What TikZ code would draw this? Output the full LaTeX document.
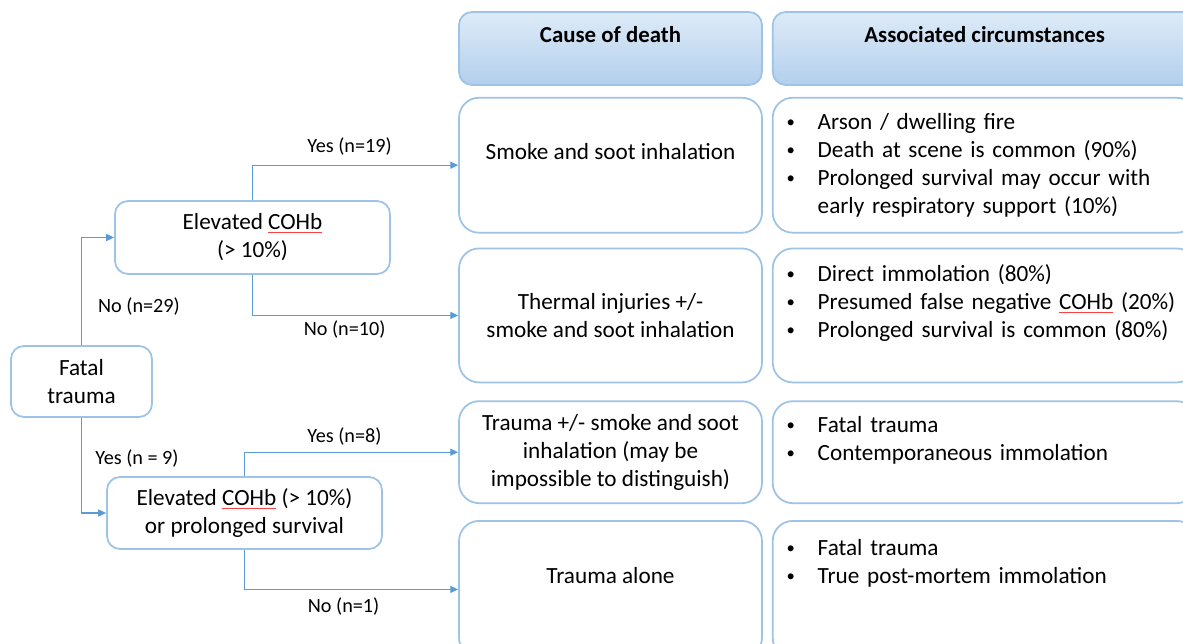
\documentclass[tikz,border=0pt]{standalone}
\usepackage{fontspec}
\setmainfont{Carlito}
\usepackage{tikz}
\usetikzlibrary{arrows.meta, positioning}
\definecolor{boxline}{HTML}{9DC3E6}
\definecolor{linkblue}{HTML}{5B9BD5}
\definecolor{headtop}{HTML}{DEEBF8}
\definecolor{headbot}{HTML}{B2CFEC}
\newcommand{\bul}[1]{\makebox[0.62cm][l]{\raisebox{1.2pt}{\fontsize{9.5}{9.5}\selectfont\textbullet}}#1}
\newcommand{\cont}[1]{\hspace*{0.62cm}#1}
\newcommand{\spell}[1]{{\color{red!75}\underline{\color{black}#1}}}

\begin{document}
\begin{tikzpicture}[x=0.02cm, y=-0.02cm, font=\fontsize{13.2}{16}\selectfont]
    \tikzstyle{box}=[draw=boxline, line width=1pt]
    \tikzstyle{head}=[box, rounded corners=0.26cm, top color=headtop, bottom color=headbot, font=\fontsize{13}{16}\selectfont\bfseries, align=center, minimum height=1.46cm]
    \tikzstyle{cause}=[box, rounded corners=0.4cm, minimum width=6.06cm, align=center]
    \tikzstyle{circ}=[box, rounded corners=0.4cm, minimum width=8.48cm, text width=7.92cm, inner xsep=0.28cm, align=left]
    \tikzstyle{decide}=[box, rounded corners=0.26cm, align=center]
    \tikzstyle{lbl}=[font=\fontsize{11.5}{14}\selectfont]
    \tikzstyle{link}=[draw=linkblue, line width=0.7pt, -{Triangle[length=4.5pt,width=4pt]}]

    \useasboundingbox (0,0) rectangle (1183,644);
    \clip (0,0) rectangle (1183,644);

    % column headers
    \node[head, minimum width=6.06cm] (H1) at (610.5,48.5) {Cause of death\\ \mbox{}};
    \node[head, minimum width=8.48cm, right=0.18cm of H1] (H2) {Associated circumstances\\ \mbox{}};

    % cause of death
    \node[cause, minimum height=2.7cm, below=0.22cm of H1] (C1) {Smoke and soot inhalation\\ \mbox{}};
    \node[cause, minimum height=2.68cm, below=0.28cm of C1] (C2) {Thermal injuries +/-\\ smoke and soot inhalation};
    \node[cause, minimum height=2.04cm, below=0.34cm of C2] (C3) {Trauma +/- smoke and soot\\ inhalation (may be\\ impossible to distinguish)};
    \node[cause, minimum height=2.74cm, below=0.32cm of C3] (C4) {Trauma alone\\ \mbox{}};

    % associated circumstances
    \node[circ, minimum height=2.7cm, right=0.18cm of C1] (A1) {\bul{Arson / dwelling fire}\\ \bul{Death at scene is common (90\%)}\\ \bul{Prolonged survival may occur with}\\ \cont{early respiratory support (10\%)}};
    \node[circ, minimum height=2.68cm, right=0.18cm of C2] (A2) {\bul{Direct immolation (80\%)}\\ \bul{Presumed false negative \spell{COHb} (20\%)}\\ \bul{Prolonged survival is common (80\%)}\\ \mbox{}};
    \node[circ, minimum height=2.04cm, right=0.18cm of C3] (A3) {\bul{Fatal trauma}\\ \bul{Contemporaneous immolation}\\ \mbox{}};
    \node[circ, minimum height=2.74cm, right=0.18cm of C4] (A4) {\bul{Fatal trauma}\\ \bul{True post-mortem immolation}\\ \mbox{}\\ \mbox{}};

    % decisions
    \node[decide, minimum width=2.82cm, minimum height=1.42cm] (FT) at (81.5,381.5) {Fatal\\ trauma};
    \node[decide, minimum width=5.5cm, minimum height=1.46cm] (E1) at (252.5,237.5) {Elevated \spell{COHb}\\ (> 10\%)};
    \node[decide, minimum width=5.5cm, minimum height=1.44cm] (E2) at (244.5,513) {Elevated \spell{COHb} (> 10\%)\\ or prolonged survival};

    \draw[link] (FT.north) |- node[lbl, pos=0.18, xshift=1.15cm] {No (n=29)} (E1.west);
    \draw[link] (FT.south) |- node[lbl, pos=0.214, xshift=1.11cm] {Yes (n = 9)} (E2.west);
    \draw[link] (E1.north) |- node[lbl, pos=0.736, yshift=0.37cm] {Yes (n=19)} (C1.west);
    \draw[link] (E1.south) |- node[lbl, pos=0.724, yshift=-0.28cm] {No (n=10)} (C2.west);
    \draw[link] (E2.north) |- node[lbl, pos=0.734, yshift=0.32cm] {Yes (n=8)} (C3.west);
    \draw[link] (E2.south) |- node[lbl, pos=0.732, yshift=-0.35cm] {No (n=1)} (C4.west);

  \end{tikzpicture}
\end{document}
